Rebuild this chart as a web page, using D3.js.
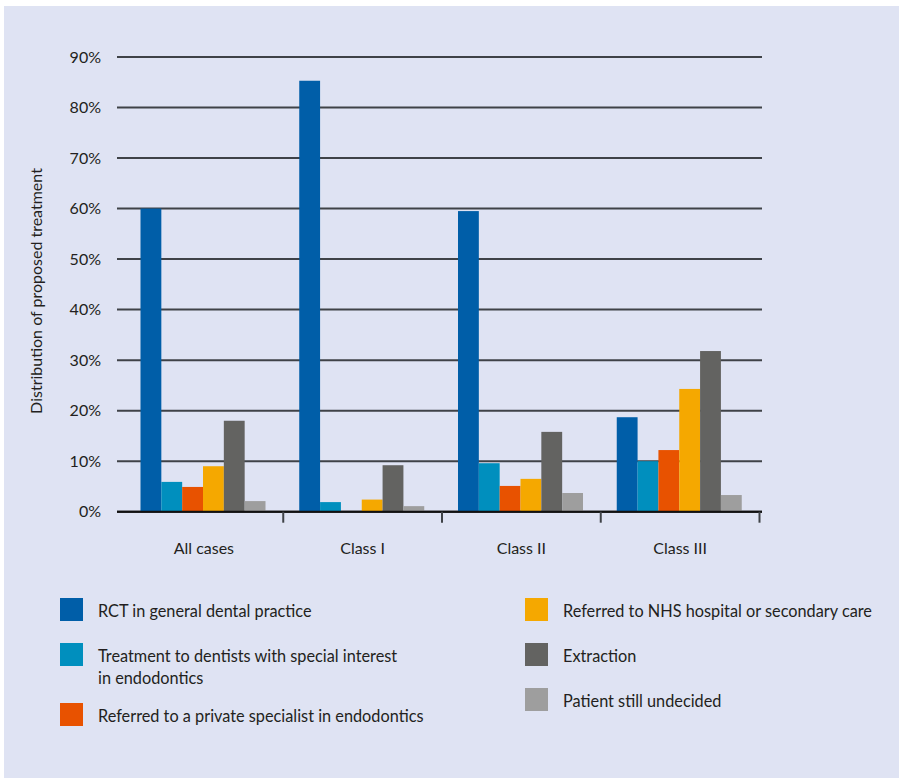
<!DOCTYPE html>
<html><head><meta charset="utf-8">
<script src="https://cdn.jsdelivr.net/npm/d3@7/dist/d3.min.js"></script>
<style>
html,body{margin:0;padding:0;background:#fff;}
svg{display:block;}
text{font-family:"Lato","Open Sans",sans-serif;fill:#231f20;}
</style></head>
<body>
<svg id="chart" width="899" height="778"></svg>
<script>
const categories = ["All cases", "Class I", "Class II", "Class III"];
const seriesNames = [
  "RCT in general dental practice",
  "Treatment to dentists with special interest in endodontics",
  "Referred to a private specialist in endodontics",
  "Referred to NHS hospital or secondary care",
  "Extraction",
  "Patient still undecided"
];
const seriesColors = ["#005ea8", "#008fbe", "#e85200", "#f5a800", "#636361", "#9e9e9e"];
const rctGDP        = [60.0, 85.3, 59.5, 18.7];
const dentistsSI    = [5.9, 1.9, 9.6, 10.0];
const privateSpec   = [4.9, 0.0, 5.1, 12.2];
const nhsHospital   = [9.0, 2.4, 6.5, 24.3];
const extraction    = [18.0, 9.2, 15.8, 31.8];
const undecided     = [2.1, 1.1, 3.7, 3.3];
const yTicks = [0, 10, 20, 30, 40, 50, 60, 70, 80, 90];
const yTitle = "Distribution of proposed treatment";

const seriesValues = [rctGDP, dentistsSI, privateSpec, nhsHospital, extraction, undecided];

const svg = d3.select("#chart");
svg.append("rect").attr("x", 4).attr("y", 6).attr("width", 895).attr("height", 772).attr("fill", "#dfe3f3");

const y = d3.scaleLinear().domain([0, 90]).range([511.7, 57]);
const x0 = d3.scaleBand().domain(categories).range([124.5, 759.5]).padding(0);
const x1 = d3.scaleBand().domain(d3.range(seriesNames.length)).range([16, 141]).padding(0);

// gridlines + y labels
const gAxis = svg.append("g");
yTicks.forEach(t => {
  gAxis.append("line").attr("x1", 117).attr("x2", 762)
    .attr("y1", y(t)).attr("y2", y(t))
    .attr("stroke", t === 0 ? "#111" : "#3f4247").attr("stroke-width", 2);
  gAxis.append("text").attr("x", 101).attr("y", y(t)).attr("dy", "0.36em")
    .attr("text-anchor", "end").attr("font-size", 16).text(t + "%");
});

// bars
const groups = svg.append("g").selectAll("g").data(categories).join("g")
  .attr("transform", c => `translate(${x0(c)},0)`);
groups.selectAll("rect")
  .data((c, ci) => seriesValues.map((vals, si) => ({si, v: vals[ci]})))
  .join("rect")
  .attr("x", d => x1(d.si))
  .attr("width", x1.bandwidth())
  .attr("y", d => y(d.v))
  .attr("height", d => y(0) - y(d.v))
  .attr("fill", d => seriesColors[d.si]);

// baseline on top
svg.append("line").attr("x1", 117).attr("x2", 762).attr("y1", y(0)).attr("y2", y(0))
  .attr("stroke", "#111").attr("stroke-width", 2);

// x ticks at category boundaries
categories.forEach((c, i) => {
  const xr = x0(c) + x0.bandwidth();
  svg.append("line").attr("x1", xr).attr("x2", xr).attr("y1", y(0)).attr("y2", y(0) + 11)
    .attr("stroke", "#3f4247").attr("stroke-width", 2);
  svg.append("text").attr("x", x0(c) + x0.bandwidth() / 2).attr("y", 548).attr("dy", "0.36em")
    .attr("text-anchor", "middle").attr("font-size", 16).text(c);
});

// y title
svg.append("text").attr("transform", "translate(36,291) rotate(-90)")
  .attr("text-anchor", "middle").attr("dy", "0.36em").attr("font-size", 16).text(yTitle);

// legend
const legendPos = [
  {x: 60, y: 598, lines: ["RCT in general dental practice"]},
  {x: 60, y: 643, lines: ["Treatment to dentists with special interest", "in endodontics"]},
  {x: 60, y: 703, lines: ["Referred to a private specialist in endodontics"]},
  {x: 525, y: 598, lines: ["Referred to NHS hospital or secondary care"]},
  {x: 525, y: 643, lines: ["Extraction"]},
  {x: 525, y: 688, lines: ["Patient still undecided"]}
];
legendPos.forEach((p, i) => {
  svg.append("rect").attr("x", p.x).attr("y", p.y).attr("width", 23).attr("height", 23)
    .attr("fill", seriesColors[i]);
  const t = svg.append("text").attr("x", p.x + 38).attr("y", p.y + 13.5)
    .attr("font-size", 16.3);
  p.lines.forEach((l, li) => {
    t.append("tspan").attr("x", p.x + 38).attr("dy", li === 0 ? "0.36em" : 22).text(l);
  });
});
</script>
</body></html>
